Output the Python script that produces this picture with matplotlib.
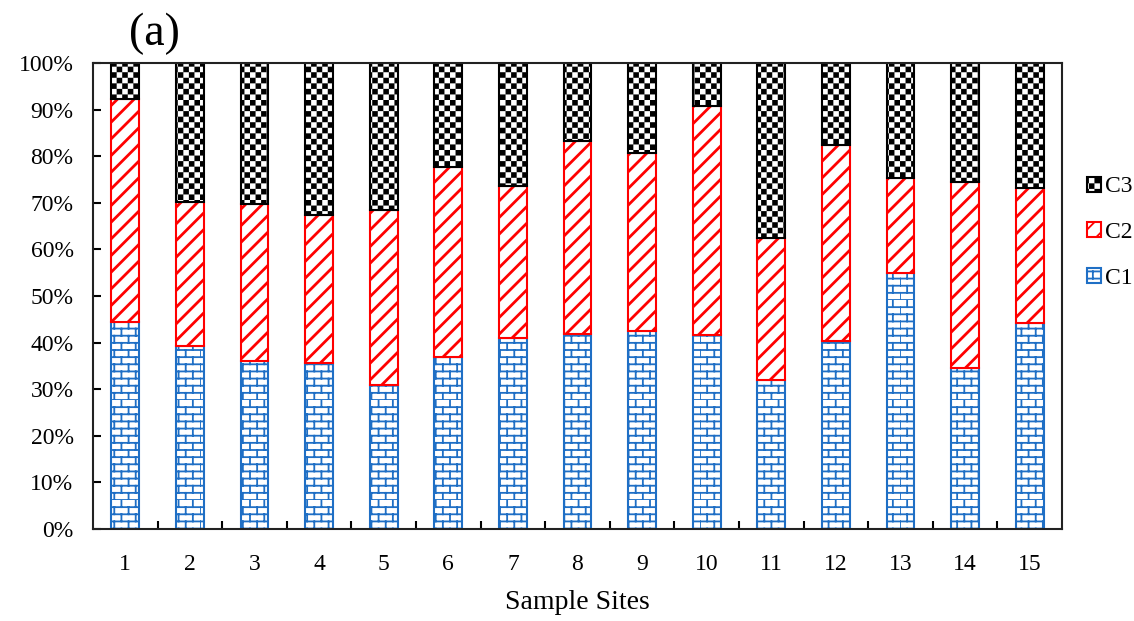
import warnings
import numpy as np
import matplotlib
matplotlib.use("Agg")
import matplotlib.pyplot as plt
import matplotlib.hatch as mhatch
from matplotlib.path import Path

warnings.filterwarnings("ignore")

sites = [str(i) for i in range(1, 16)]
c1 = [44.5, 39.3, 36.0, 35.7, 31.0, 37.0, 40.9, 41.8, 42.5, 41.7, 32.0, 40.4, 54.9, 34.6, 44.2]
c2 = [47.8, 30.8, 33.8, 31.7, 37.4, 40.7, 32.7, 41.4, 38.1, 49.0, 30.5, 42.1, 20.5, 39.8, 28.9]
c3 = [7.7, 29.9, 30.2, 32.6, 31.6, 22.3, 26.4, 16.8, 19.4, 9.3, 37.5, 17.5, 24.6, 25.6, 26.9]


# brick and checker hatches, like the excel patterns in the original
class BrickHatch(mhatch.HatchPatternBase):
    def __init__(self, hatch, density):
        self.rows = hatch.count('b') * 14
        self.cols = self.rows // 2
        self.num_vertices = self.rows * 2 + self.rows * self.cols * 2

    def set_vertices_and_codes(self, vertices, codes):
        v = []
        for r in range(self.rows):
            y0 = r / self.rows
            y1 = (r + 1) / self.rows
            v += [(0, y0), (1, y0)]
            shift = 0.5 if r % 2 else 0.0
            for c in range(self.cols):
                x = (c + shift) / self.cols
                v += [(x, y0), (x, y1)]
        vertices[:] = v
        codes[0::2] = Path.MOVETO
        codes[1::2] = Path.LINETO


class CheckerHatch(mhatch.HatchPatternBase):
    def __init__(self, hatch, density):
        self.n = hatch.count('k') * 18
        self.num_vertices = (self.n * self.n // 2) * 5

    def set_vertices_and_codes(self, vertices, codes):
        n = self.n
        s = 1.0 / n
        d = 0.16 * s  # inset, the stroke makes the squares grow
        v = []
        for r in range(n):
            for c in range(n):
                if (r + c) % 2 == 0:
                    x, y = c * s + d, r * s + d
                    e = s - 2 * d
                    v += [(x, y), (x + e, y), (x + e, y + e), (x, y + e), (x, y)]
        vertices[:] = v
        codes[:] = np.tile([Path.MOVETO, Path.LINETO, Path.LINETO,
                            Path.LINETO, Path.CLOSEPOLY], n * n // 2)


mhatch._hatch_types.append(BrickHatch)
mhatch._hatch_types.append(CheckerHatch)

plt.rcParams['font.family'] = ['Liberation Serif', 'DejaVu Serif']
plt.rcParams['hatch.linewidth'] = 1.3

fig = plt.figure(figsize=(11.34, 6.21), dpi=100)
ax = fig.add_axes([0.082, 0.148, 0.8545, 0.7505])

x = np.arange(1, 16)
w = 0.43
bottom2 = np.array(c1)
bottom3 = bottom2 + np.array(c2)

b1 = ax.bar(x, c1, w, color='white', edgecolor='#1f6fc5', hatch='b',
            linewidth=1.5, label='C1')
with plt.rc_context({'hatch.linewidth': 2.0}):
    b2 = ax.bar(x, c2, w, bottom=bottom2, color='white', edgecolor='#ff0000',
                hatch='//', linewidth=1.5, label='C2')
b3 = ax.bar(x, c3, w, bottom=bottom3, color='white', edgecolor='black',
            hatch='k', linewidth=1.5, label='C3')

ax.set_xlim(0.5, 15.5)
ax.set_ylim(0, 100)
ax.set_yticks(np.arange(0, 101, 10))
ax.set_yticklabels([f'{v}%' for v in range(0, 101, 10)])
ax.set_xticks(x)
ax.set_xticklabels(sites)
ax.set_xticks(np.arange(1.5, 15, 1), minor=True)
ax.tick_params(axis='x', which='major', length=0, pad=18, labelsize=17)
ax.tick_params(axis='x', which='minor', direction='in', length=6, width=1.5)
ax.tick_params(axis='y', direction='in', length=6, width=1.5, pad=14, labelsize=17)
for s in ax.spines.values():
    s.set_linewidth(1.5)
    s.set_color('#222222')

ax.set_xlabel('Sample Sites', fontsize=20, labelpad=11)
fig.text(0.136, 0.945, '(a)', fontsize=33, ha='center', va='center')

fig.legend(handles=[b3, b2, b1], labels=['C3', 'C2', 'C1'],
           loc='upper left', bbox_to_anchor=(0.948, 0.735), frameon=False,
           fontsize=17, handlelength=0.6, handleheight=0.6,
           handletextpad=0.15, labelspacing=1.05, borderpad=0)

fig.savefig('out.png', dpi=100)
